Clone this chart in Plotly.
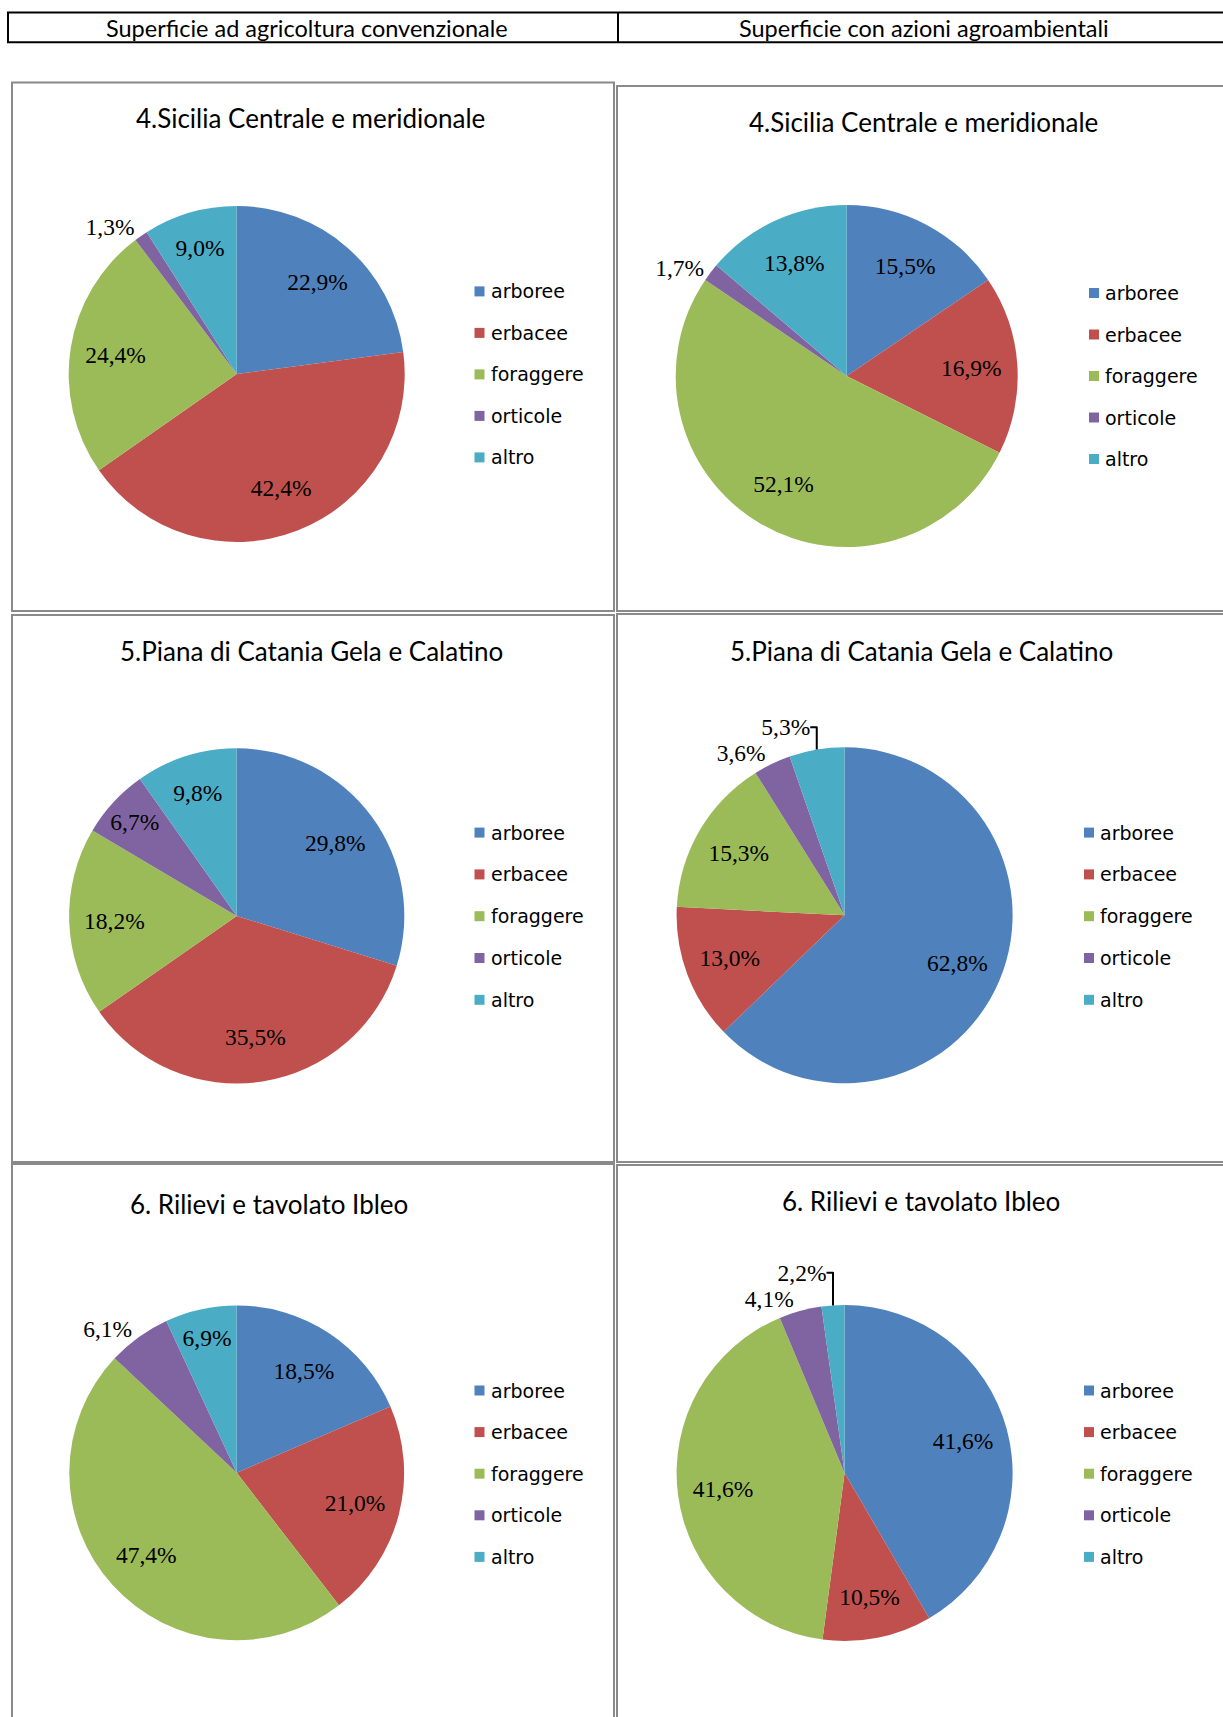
import plotly.graph_objects as go

# ---------------- data ----------------
categories = ["arboree", "erbacee", "foraggere", "orticole", "altro"]
colors = ["#4F81BD", "#C0504D", "#9BBB59", "#8064A2", "#4BACC6"]

header_left = "Superficie ad agricoltura convenzionale"
header_right = "Superficie con azioni agroambientali"

titles = [
    "4.Sicilia Centrale e meridionale", "4.Sicilia Centrale e meridionale",
    "5.Piana di Catania Gela e Calatino", "5.Piana di Catania Gela e Calatino",
    "6. Rilievi e tavolato Ibleo", "6. Rilievi e tavolato Ibleo",
]

sicilia_conv = [22.9, 42.4, 24.4, 1.3, 9.0]
sicilia_agro = [15.5, 16.9, 52.1, 1.7, 13.8]
catania_conv = [29.8, 35.5, 18.2, 6.7, 9.8]
catania_agro = [62.8, 13.0, 15.3, 3.6, 5.3]
iblei_conv = [18.5, 21.0, 47.4, 6.1, 6.9]
iblei_agro = [41.6, 10.5, 41.6, 4.1, 2.2]

series = [sicilia_conv, sicilia_agro, catania_conv, catania_agro, iblei_conv, iblei_agro]

# label placement (inside / outside) per slice
positions = [
    ["inside", "inside", "inside", "outside", "inside"],
    ["inside", "inside", "inside", "outside", "inside"],
    ["inside", "inside", "inside", "inside", "inside"],
    ["inside", "inside", "inside", "outside", "outside"],
    ["inside", "inside", "inside", "outside", "inside"],
    ["inside", "inside", "inside", "outside", "outside"],
]

# ---------------- layout geometry (pixels) ----------------
W, H = 1223, 1717
# pie centre x, centre y, radius
pie_geom = [
    (236.7, 374.0, 168.0), (846.7, 376.0, 171.0),
    (236.7, 915.9, 167.6), (844.6, 915.3, 168.0),
    (236.7, 1472.8, 167.4), (844.6, 1473.0, 168.0),
]
title_pos = [(310, 118), (923, 122), (311, 651), (921, 651), (269, 1204), (921, 1201)]
legend_geom = [  # square left x, first row y, row step
    (474.5, 291.4, 41.5), (1089.0, 293.0, 41.5),
    (474.5, 832.6, 41.8), (1084.0, 832.6, 41.8),
    (474.5, 1390.5, 41.6), (1084.0, 1390.5, 41.6),
]
panels = [
    (12, 82.5, 614, 611), (617, 86, 1235, 611),
    (12, 615, 614, 1162), (617, 614, 1235, 1162),
    (12, 1164, 614, 1730), (617, 1165, 1235, 1730),
]
LABEL_RING_HOLE = 0.46  # pushes inside labels outward (Excel "best fit" look)


def fx(x):
    return x / W


def fy(y):
    return 1 - y / H


fig = go.Figure()

for i, vals in enumerate(series):
    cx, cy, r = pie_geom[i]
    dom = dict(x=[fx(cx - r), fx(cx + r)], y=[fy(cy + r), fy(cy - r)])
    # coloured slices
    fig.add_trace(go.Pie(
        labels=categories,
        values=vals,
        sort=False,
        direction="clockwise",
        rotation=0,
        marker=dict(colors=colors, line=dict(width=0)),
        textinfo="none",
        showlegend=False,
        hoverinfo="label+percent",
        domain=dom,
    ))
    # data labels (transparent ring on top, same data)
    fig.add_trace(go.Pie(
        labels=categories,
        values=vals,
        sort=False,
        direction="clockwise",
        rotation=0,
        hole=LABEL_RING_HOLE,
        marker=dict(colors=["rgba(0,0,0,0)"] * len(categories), line=dict(width=0)),
        texttemplate="%{percent:.1%}",
        textposition=positions[i],
        insidetextorientation="horizontal",
        textfont=dict(family="Liberation Serif", size=23.5, color="black"),
        showlegend=False,
        hoverinfo="skip",
        domain=dom,
    ))

shapes = []
annotations = []

# header
shapes.append(dict(type="rect", xref="paper", yref="paper",
                   x0=fx(8), x1=fx(1235), y0=fy(42.3), y1=fy(12.5),
                   line=dict(color="black", width=2)))
shapes.append(dict(type="line", xref="paper", yref="paper",
                   x0=fx(618), x1=fx(618), y0=fy(42.3), y1=fy(12.5),
                   line=dict(color="black", width=2)))
annotations.append(dict(text=header_left, x=fx(307), y=fy(28), xref="paper", yref="paper",
                        showarrow=False, xanchor="center", yanchor="middle",
                        font=dict(family="Lato", size=23.5, color="black")))
annotations.append(dict(text=header_right, x=fx(924), y=fy(28), xref="paper", yref="paper",
                        showarrow=False, xanchor="center", yanchor="middle",
                        font=dict(family="Lato", size=23.5, color="black")))

# panels
for (x0, y0, x1, y1) in panels:
    shapes.append(dict(type="rect", xref="paper", yref="paper",
                       x0=fx(x0), x1=fx(x1), y0=fy(y1), y1=fy(y0),
                       line=dict(color="#8a8a8a", width=2)))

# titles
for t, (tx, ty) in zip(titles, title_pos):
    annotations.append(dict(text=t, x=fx(tx), y=fy(ty), xref="paper", yref="paper",
                            showarrow=False, xanchor="center", yanchor="middle",
                            font=dict(family="Lato", size=26, color="black")))

# legends
for (sx, y0, step) in legend_geom:
    for k, (cat, col) in enumerate(zip(categories, colors)):
        yy = y0 + k * step
        shapes.append(dict(type="rect", xref="paper", yref="paper",
                           x0=fx(sx), x1=fx(sx + 10), y0=fy(yy + 5), y1=fy(yy - 5),
                           fillcolor=col, line=dict(width=0)))
        annotations.append(dict(text=cat, x=fx(sx + 14), y=fy(yy), xref="paper", yref="paper",
                                showarrow=False, xanchor="left", yanchor="middle",
                                font=dict(family="DejaVu Sans", size=19, color="black")))

fig.update_layout(
    width=W, height=H,
    margin=dict(l=0, r=0, t=0, b=0),
    paper_bgcolor="white", plot_bgcolor="white",
    separators=",.",
    uniformtext=dict(minsize=23.5, mode="show"),
    shapes=shapes, annotations=annotations,
)

fig.write_html("out.html")
